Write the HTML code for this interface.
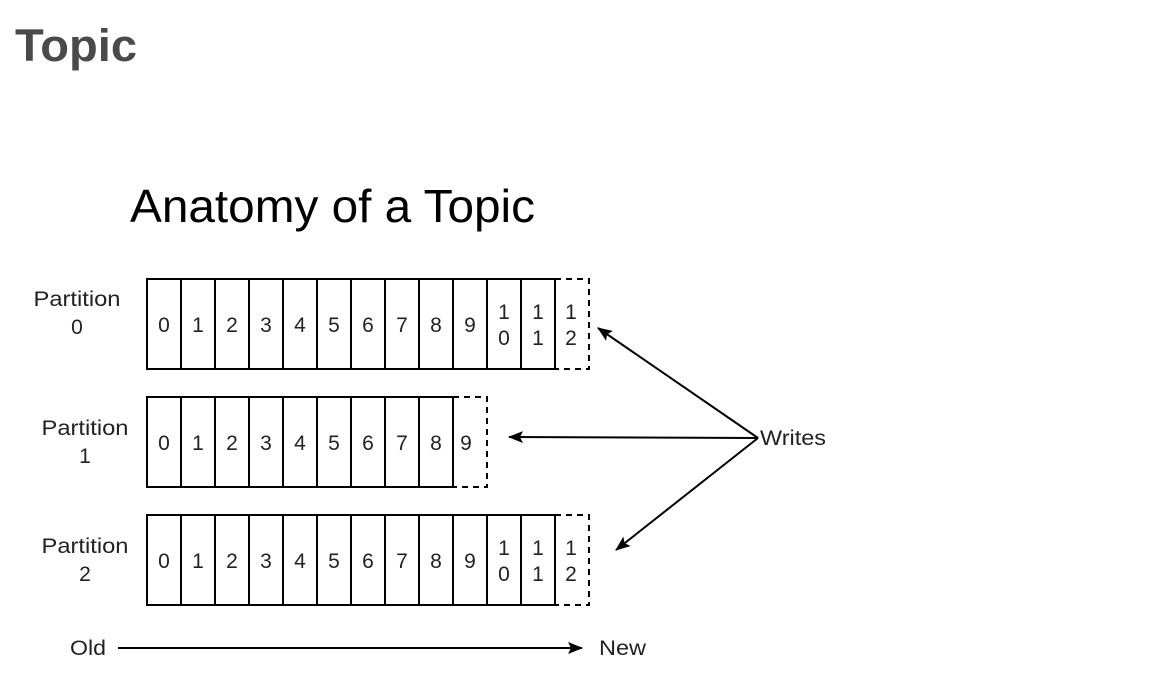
<!DOCTYPE html>
<html><head><meta charset="utf-8"><style>
html,body{margin:0;padding:0;background:#fff;width:1168px;height:686px;overflow:hidden}
</style></head><body>
<svg width="1168" height="686" viewBox="0 0 1168 686" xmlns="http://www.w3.org/2000/svg" font-family="Liberation Sans, Arial, sans-serif">
<text x="15" y="61" font-size="45" font-weight="bold" fill="#4a4a4a" textLength="122" lengthAdjust="spacingAndGlyphs">Topic</text>
<text x="130" y="222" font-size="46" fill="#000" textLength="405" lengthAdjust="spacingAndGlyphs">Anatomy of a Topic</text>
<defs><marker id="ah" markerWidth="15" markerHeight="12" refX="14" refY="6" orient="auto" markerUnits="userSpaceOnUse"><path d="M0,0 L15,6 L0,12 L3,6 Z" fill="#000"/></marker></defs>
<g font-size="21" fill="#222" text-anchor="middle" lengthAdjust="spacingAndGlyphs">
<text x="77" y="306" textLength="87" lengthAdjust="spacingAndGlyphs">Partition</text><text x="77" y="334">0</text>
<text x="85" y="435" textLength="87" lengthAdjust="spacingAndGlyphs">Partition</text><text x="85" y="463">1</text>
<text x="85" y="553" textLength="87" lengthAdjust="spacingAndGlyphs">Partition</text><text x="85" y="581">2</text>
</g>
<g stroke="#000" stroke-width="2" fill="none">
<rect x="147" y="279" width="408" height="90"/>
<path d="M181,279V369M215,279V369M249,279V369M283,279V369M317,279V369M351,279V369M385,279V369M419,279V369M453,279V369M487,279V369M521,279V369"/>
<path d="M555,279H589V369H555" stroke-dasharray="6,5"/>
<rect x="147" y="397" width="306" height="90"/>
<path d="M181,397V487M215,397V487M249,397V487M283,397V487M317,397V487M351,397V487M385,397V487M419,397V487"/>
<path d="M453,397H487V487H453" stroke-dasharray="6,5"/>
<rect x="147" y="515" width="408" height="90"/>
<path d="M181,515V605M215,515V605M249,515V605M283,515V605M317,515V605M351,515V605M385,515V605M419,515V605M453,515V605M487,515V605M521,515V605"/>
<path d="M555,515H589V605H555" stroke-dasharray="6,5"/>
</g>
<g font-size="21" fill="#222" text-anchor="middle">
<text x="164" y="332">0</text><text x="198" y="332">1</text><text x="232" y="332">2</text><text x="266" y="332">3</text><text x="300" y="332">4</text><text x="334" y="332">5</text><text x="368" y="332">6</text><text x="402" y="332">7</text><text x="436" y="332">8</text><text x="470" y="332">9</text>
<text x="504" y="319">1</text><text x="504" y="345">0</text><text x="538" y="319">1</text><text x="538" y="345">1</text><text x="571" y="319">1</text><text x="571" y="345">2</text>
<text x="164" y="450">0</text><text x="198" y="450">1</text><text x="232" y="450">2</text><text x="266" y="450">3</text><text x="300" y="450">4</text><text x="334" y="450">5</text><text x="368" y="450">6</text><text x="402" y="450">7</text><text x="436" y="450">8</text><text x="466" y="450">9</text>
<text x="164" y="568">0</text><text x="198" y="568">1</text><text x="232" y="568">2</text><text x="266" y="568">3</text><text x="300" y="568">4</text><text x="334" y="568">5</text><text x="368" y="568">6</text><text x="402" y="568">7</text><text x="436" y="568">8</text><text x="470" y="568">9</text>
<text x="504" y="555">1</text><text x="504" y="581">0</text><text x="538" y="555">1</text><text x="538" y="581">1</text><text x="571" y="555">1</text><text x="571" y="581">2</text>
</g>
<g stroke="#000" stroke-width="2" fill="none" marker-end="url(#ah)">
<line x1="758" y1="438" x2="598" y2="328"/>
<line x1="758" y1="438" x2="509" y2="437"/>
<line x1="758" y1="438" x2="616" y2="550"/>
<line x1="118" y1="648" x2="582" y2="648"/>
</g>
<g font-size="21" fill="#222">
<text x="760" y="445" textLength="66" lengthAdjust="spacingAndGlyphs">Writes</text>
<text x="70" y="655" textLength="36" lengthAdjust="spacingAndGlyphs">Old</text>
<text x="599" y="655" textLength="47" lengthAdjust="spacingAndGlyphs">New</text>
</g>
</svg>
</body></html>
